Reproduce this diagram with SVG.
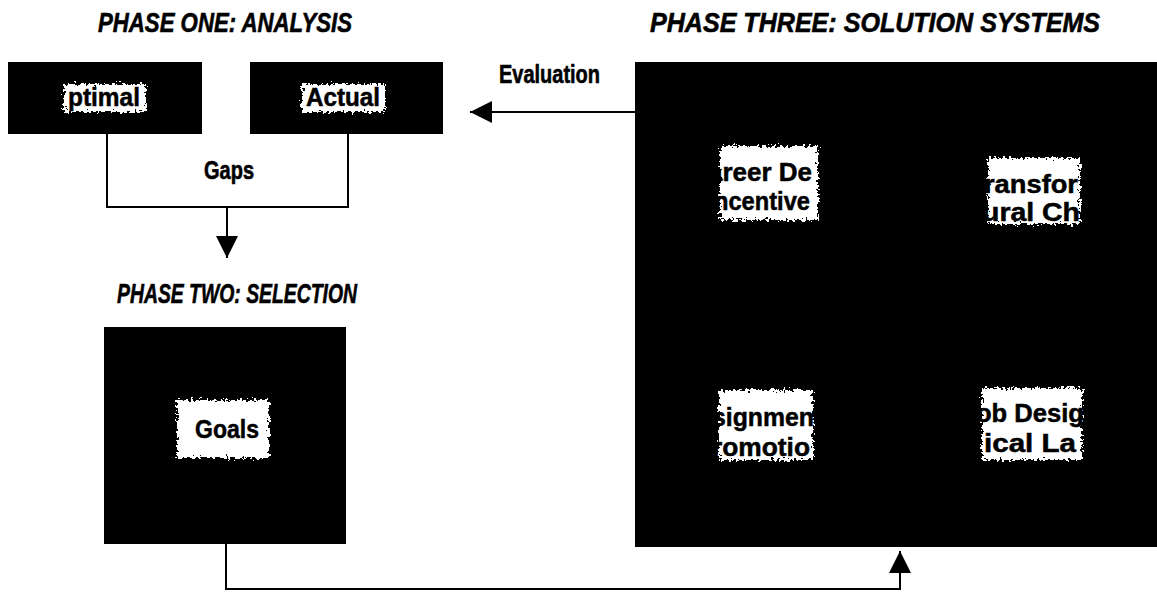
<svg xmlns="http://www.w3.org/2000/svg" width="1157" height="592" viewBox="0 0 1157 592">
  <defs>
    <style>
      .title { font-family: "Liberation Sans", Arial, sans-serif; font-weight: bold; font-style: italic; font-size: 27px; fill: #000; stroke: #000; stroke-width: 0.6; }
      .label { font-family: "Liberation Sans", Arial, sans-serif; font-weight: bold; font-size: 26px; fill: #000; stroke: #000; stroke-width: 0.6; }
      .inner { font-family: "Liberation Sans", Arial, sans-serif; font-weight: bold; font-size: 25px; fill: #000; stroke: #000; stroke-width: 0.5; }
      .box { fill: #000; }
      .patch { fill: #fff; filter: url(#rough); }
      .wire { fill: none; stroke: #000; stroke-width: 2; }
    </style>
    <!-- ragged, speckled edges for the white label patches -->
    <filter id="rough" x="-15%" y="-25%" width="130%" height="150%">
      <feTurbulence type="fractalNoise" baseFrequency="0.35" numOctaves="2" seed="3" result="noise"/>
      <feDisplacementMap in="SourceGraphic" in2="noise" scale="10" xChannelSelector="R" yChannelSelector="G"/>
    </filter>
    <marker id="head" viewBox="0 0 22 22" refX="22" refY="11" markerWidth="22" markerHeight="22" markerUnits="userSpaceOnUse" orient="auto">
      <path d="M0,0 L22,11 L0,22 Z" fill="#000"/>
    </marker>
  </defs>

  <rect width="1157" height="592" fill="#fff"/>

  <!-- phase headings -->
  <text class="title" x="98" y="32" textLength="254" lengthAdjust="spacingAndGlyphs">PHASE ONE: ANALYSIS</text>
  <text class="title" x="650" y="32" textLength="450" lengthAdjust="spacingAndGlyphs">PHASE THREE: SOLUTION SYSTEMS</text>
  <text class="title" x="117" y="303" textLength="240" lengthAdjust="spacingAndGlyphs">PHASE TWO: SELECTION</text>

  <!-- connectors -->
  <g id="connectors">
    <!-- gaps between optimal and actual feed selection -->
    <polyline class="wire" points="107,134 107,207 348,207 348,134"/>
    <line class="wire" x1="227" y1="207" x2="227" y2="258" marker-end="url(#head)"/>
    <!-- evaluation back to analysis -->
    <line class="wire" x1="635" y1="112" x2="470" y2="112" marker-end="url(#head)"/>
    <!-- selection into solution systems -->
    <polyline class="wire" points="226,544 226,589 900,589 900,551" marker-end="url(#head)"/>
    <text class="label" x="204" y="179" textLength="50" lengthAdjust="spacingAndGlyphs">Gaps</text>
    <text class="label" x="499" y="83" textLength="101" lengthAdjust="spacingAndGlyphs">Evaluation</text>
  </g>

  <!-- phase one boxes -->
  <g id="optimal">
    <rect class="box" x="8" y="62" width="194" height="72"/>
    <rect class="patch" x="64" y="84" width="82" height="28"/>
    <text class="inner" x="68" y="106" textLength="72" lengthAdjust="spacingAndGlyphs">ptimal</text>
  </g>
  <g id="actual">
    <rect class="box" x="250" y="62" width="193" height="72"/>
    <rect class="patch" x="302" y="84" width="83" height="28"/>
    <text class="inner" x="306" y="106" textLength="74" lengthAdjust="spacingAndGlyphs">Actual</text>
  </g>

  <!-- phase two box -->
  <g id="selection">
    <rect class="box" x="104" y="327" width="242" height="217"/>
    <rect class="patch" x="177" y="400" width="92" height="58"/>
    <text class="inner" x="195" y="438" textLength="64" lengthAdjust="spacingAndGlyphs">Goals</text>
  </g>

  <!-- phase three panel -->
  <g id="solutions">
    <rect class="box" x="635" y="62" width="522" height="485"/>
  </g>
  <g id="career">
    <rect class="patch" x="720" y="146" width="98" height="74"/>
    <text class="inner" x="708" y="181" textLength="104" lengthAdjust="spacingAndGlyphs">areer De</text>
    <text class="inner" x="714" y="210" textLength="96" lengthAdjust="spacingAndGlyphs">ncentive</text>
  </g>
  <g id="transform">
    <rect class="patch" x="988" y="158" width="92" height="66"/>
    <text class="inner" x="984" y="193" textLength="94" lengthAdjust="spacingAndGlyphs">ransfor</text>
    <text class="inner" x="982" y="221" textLength="98" lengthAdjust="spacingAndGlyphs">ural Ch</text>
  </g>
  <g id="assignment">
    <rect class="patch" x="719" y="390" width="94" height="70"/>
    <text class="inner" x="712" y="426" textLength="102" lengthAdjust="spacingAndGlyphs">signmen</text>
    <text class="inner" x="712" y="456" textLength="98" lengthAdjust="spacingAndGlyphs">romotio</text>
  </g>
  <g id="job">
    <rect class="patch" x="982" y="388" width="100" height="72"/>
    <text class="inner" x="976" y="422" textLength="108" lengthAdjust="spacingAndGlyphs">ob Desig</text>
    <text class="inner" x="984" y="452" textLength="92" lengthAdjust="spacingAndGlyphs">ical La</text>
  </g>
</svg>
